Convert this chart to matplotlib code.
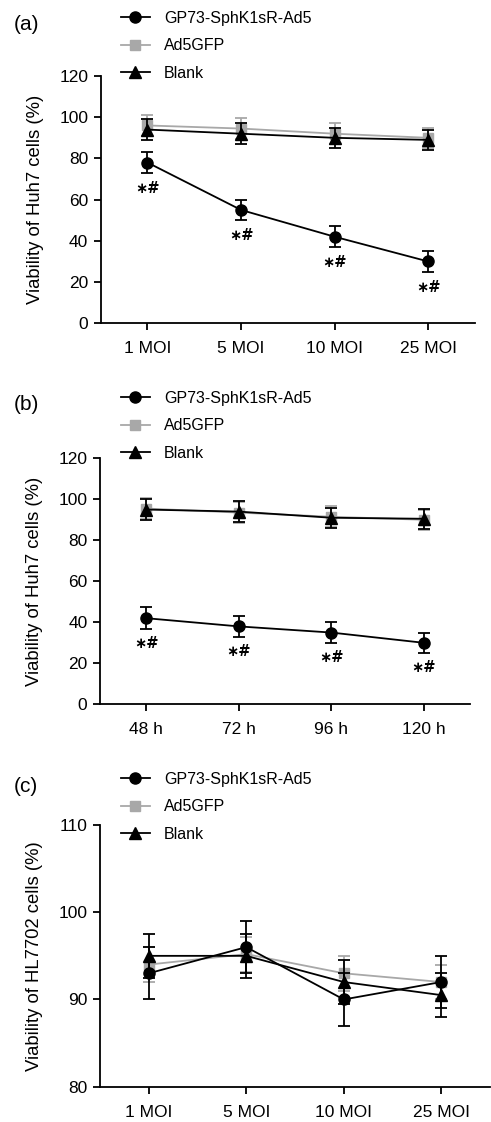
import matplotlib
matplotlib.use("Agg")
from matplotlib import pyplot as plt
import numpy as np

plt.rcParams['font.family'] = ['Liberation Sans', 'DejaVu Sans']

series_names = ["GP73-SphK1sR-Ad5", "Ad5GFP", "Blank"]

# panel (a): Huh7, dose
dose_labels = ["1 MOI", "5 MOI", "10 MOI", "25 MOI"]
a_gp73 = [78, 55, 42, 30]
a_gp73_err = [5, 5, 5, 5]
a_gfp = [96, 94.5, 92, 90]
a_gfp_err = [5, 5, 5, 5]
a_blank = [94, 92, 90, 89]
a_blank_err = [5, 5, 5, 5]

# panel (b): Huh7, time
time_labels = ["48 h", "72 h", "96 h", "120 h"]
b_gp73 = [42, 38, 35, 30]
b_gp73_err = [5.5, 5, 5, 5]
b_gfp = [95.5, 93.5, 91.5, 90]
b_gfp_err = [5, 5, 5, 5]
b_blank = [95, 94, 91, 90.5]
b_blank_err = [5, 5, 5, 5]

# panel (c): HL7702, dose
c_gp73 = [93, 96, 90, 92]
c_gp73_err = [3, 3, 3, 3]
c_gfp = [94, 95.2, 93, 92]
c_gfp_err = [2, 2, 2, 2]
c_blank = [95, 95, 92, 90.5]
c_blank_err = [2.5, 2.5, 2.5, 2.5]

grey = "#a8a8a8"
W, H = 491, 1122


def px_rect(left, top, right, bottom):
    return [left / W, 1 - bottom / H, (right - left) / W, (bottom - top) / H]


def draw_panel(fig, rect, labels, gp73, gp73_err, gfp, gfp_err, blank, blank_err,
               ylim, yticks, ylabel, tag, tag_y, leg_y, stars=False, star_off=7.5):
    ax = fig.add_axes(rect)
    x = np.arange(len(labels))
    kw = dict(capsize=4, elinewidth=1.3, capthick=1.3, lw=1.3, clip_on=False)
    h_gfp = ax.errorbar(x, gfp, yerr=gfp_err, color=grey, marker='s', ms=7.5, zorder=2, **kw)
    h_blank = ax.errorbar(x, blank, yerr=blank_err, color='black', marker='^', ms=8, zorder=3, **kw)
    h_gp = ax.errorbar(x, gp73, yerr=gp73_err, color='black', marker='o', ms=8, zorder=4, **kw)
    if stars:
        for xi, v, e in zip(x, gp73, gp73_err):
            ax.text(xi, v - e - star_off, "\u2217#", ha='center', va='center',
                    fontsize=10.5, fontweight='bold', family=['DejaVu Sans'])
    ax.set_xlim(-0.5, 3.5)
    ax.set_ylim(*ylim)
    ax.set_yticks(yticks)
    ax.set_xticks(x)
    ax.set_xticklabels(labels)
    ax.tick_params(labelsize=12.5, length=5, width=1.3, direction='out', pad=4)
    ax.tick_params(axis='x', pad=8)
    for s in ['top', 'right']:
        ax.spines[s].set_visible(False)
    for s in ['left', 'bottom']:
        ax.spines[s].set_linewidth(1.3)
    ax.set_ylabel(ylabel, fontsize=13.3, labelpad=11)
    fig.text(14 / W, 1 - tag_y / H, tag, fontsize=15, va='center', ha='left')
    fig.legend([h_gp[0], h_gfp[0], h_blank[0]], series_names, loc='upper left',
               bbox_to_anchor=(121 / W, 1 - leg_y / H), frameon=False, fontsize=11.5,
               borderpad=0, borderaxespad=0, handlelength=1.8, handletextpad=0.9,
               labelspacing=0.78)
    return ax


fig = plt.figure(figsize=(W / 100, H / 100), dpi=100)

draw_panel(fig, px_rect(100.7, 76, 475, 323.3), dose_labels, a_gp73, a_gp73_err,
           a_gfp, a_gfp_err, a_blank, a_blank_err, (0, 120), range(0, 121, 20),
           "Viability of Huh7 cells (%)", "(a)", 24, 11, stars=True, star_off=7.5)

draw_panel(fig, px_rect(100, 458.3, 470, 704.3), time_labels, b_gp73, b_gp73_err,
           b_gfp, b_gfp_err, b_blank, b_blank_err, (0, 120), range(0, 121, 20),
           "Viability of Huh7 cells (%)", "(b)", 404, 391, stars=True, star_off=7)

draw_panel(fig, px_rect(100, 825, 490, 1086.7), dose_labels, c_gp73, c_gp73_err,
           c_gfp, c_gfp_err, c_blank, c_blank_err, (80, 110), [80, 90, 100, 110],
           "Viability of HL7702 cells (%)", "(c)", 786, 772)

fig.savefig("out.png", dpi=100)
